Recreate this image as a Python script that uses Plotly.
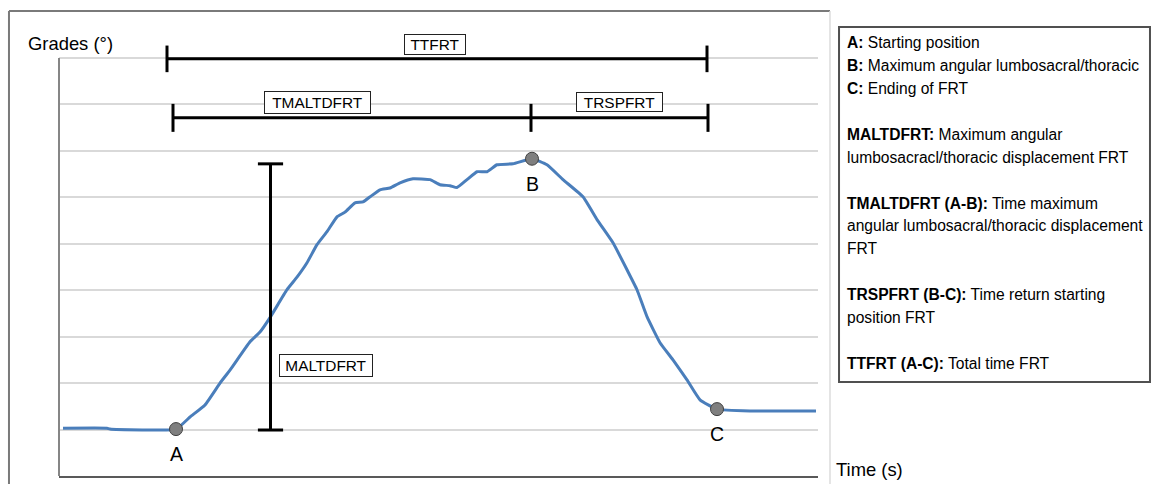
import plotly.graph_objects as go

# ---- data (time in s, angle in grades) ----
time_s = [0.04, 0.48, 0.51, 1.17, 1.31, 1.46, 1.61, 1.71, 1.91, 2.01, 2.11, 2.28, 2.38,
          2.48, 2.58, 2.68, 2.78, 2.86, 2.96, 3.04, 3.11, 3.21, 3.31, 3.41, 3.54, 3.71,
          3.81, 3.91, 3.98, 4.08, 4.18, 4.28, 4.38, 4.54, 4.73, 4.88, 5.04, 5.24, 5.38,
          5.54, 5.68, 5.78, 5.88, 6.01, 6.14, 6.28, 6.41, 6.58, 6.91, 7.57]
grades = [1.03, 1.03, 1.01, 1.01, 1.27, 1.53, 2.00, 2.28, 2.89, 3.10, 3.41, 4.01, 4.28,
          4.59, 4.98, 5.26, 5.58, 5.68, 5.88, 5.90, 6.01, 6.16, 6.20, 6.31, 6.40, 6.38,
          6.27, 6.25, 6.21, 6.38, 6.55, 6.55, 6.70, 6.72, 6.83, 6.70, 6.38, 6.01, 5.52,
          5.02, 4.44, 4.01, 3.43, 2.87, 2.50, 2.07, 1.64, 1.44, 1.40, 1.40]

point_labels = ["A", "B", "C"]
point_time = [1.17, 4.73, 6.58]
point_grades = [1.01, 6.83, 1.44]

# interval bars
ttfrt_x = [1.08, 6.48]
ttfrt_y = [8.98, 8.98]
tmaltdfrt_x = [1.14, 4.72, 6.49]
tmaltdfrt_y = [7.71, 7.71, 7.71]
maltdfrt_x = [2.115, 2.115]
maltdfrt_y = [0.99, 6.72]

box_labels = ["TTFRT", "TMALTDFRT", "TRSPFRT", "MALTDFRT"]
box_x = [3.76, 2.585, 5.605, 2.67]
box_y = [9.29, 8.04, 8.05, 2.38]
box_w = [58, 103, 83, 90]
box_h = [17, 19, 16, 19]

legend_lines = [
    "<b>A:</b> Starting position",
    "<b>B:</b> Maximum angular lumbosacral/thoracic",
    "<b>C:</b> Ending of FRT",
    "",
    "<b>MALTDFRT:</b> Maximum angular",
    "lumbosacracl/thoracic displacement FRT",
    "",
    "<b>TMALTDFRT (A-B):</b> Time maximum",
    "angular lumbosacral/thoracic displacement",
    "FRT",
    "",
    "<b>TRSPFRT (B-C):</b> Time return starting",
    "position FRT",
    "",
    "<b>TTFRT (A-C):</b> Total time FRT",
]

FONT = "Liberation Sans, Arial, sans-serif"

fig = go.Figure()

fig.add_trace(go.Scatter(x=time_s, y=grades, mode="lines",
                         line=dict(color="#4a7ebb", width=3, shape="spline", smoothing=0.4),
                         hoverinfo="skip"))

bar_style = dict(mode="lines+markers", line=dict(color="black", width=3),
                 cliponaxis=False, hoverinfo="skip")
fig.add_trace(go.Scatter(x=ttfrt_x, y=ttfrt_y,
                         marker=dict(symbol="line-ns", size=19, line=dict(color="black", width=3)),
                         **bar_style))
fig.add_trace(go.Scatter(x=tmaltdfrt_x, y=tmaltdfrt_y,
                         marker=dict(symbol="line-ns", size=20, line=dict(color="black", width=3)),
                         **bar_style))
fig.add_trace(go.Scatter(x=maltdfrt_x, y=maltdfrt_y,
                         marker=dict(symbol="line-ew", size=18, line=dict(color="black", width=3)),
                         **bar_style))

fig.add_trace(go.Scatter(x=point_time, y=point_grades, mode="markers",
                         marker=dict(color="#7f7f7f", size=13, line=dict(color="#404040", width=1)),
                         cliponaxis=False, hoverinfo="skip"))

annotations = []
for lab, x, y in zip(point_labels, point_time, point_grades):
    annotations.append(dict(x=x, y=y, xref="x", yref="y", text=lab, showarrow=False,
                            xanchor="center", yanchor="middle",
                            yshift=-25, font=dict(family=FONT, size=19.5, color="black")))
for lab, x, y, w, h in zip(box_labels, box_x, box_y, box_w, box_h):
    annotations.append(dict(x=x, y=y, xref="x", yref="y", text=lab, showarrow=False,
                            xanchor="center", yanchor="middle",
                            width=w, height=h, bgcolor="white", bordercolor="#222",
                            borderwidth=1, borderpad=1,
                            font=dict(family=FONT, size=15.4, color="black")))

annotations.append(dict(x=0.0152, y=1.0023, xref="paper", yref="paper", text="Grades (°)",
                        xanchor="center", yanchor="middle",
                        showarrow=False, font=dict(family=FONT, size=18.4, color="black")))
annotations.append(dict(x=1.0672, y=0.0139, xref="paper", yref="paper", text="Time (s)",
                        xanchor="center", yanchor="middle",
                        showarrow=False, font=dict(family=FONT, size=18.4, color="black")))

# legend text lines, one per row (row pitch ~22.86 px from first row at 43 px)
plot_top_px, plot_h_px = 44, 432
for i, line in enumerate(legend_lines):
    if not line:
        continue
    ypx = 43 + 22.86 * i
    annotations.append(dict(x=1.0356, y=1 - (ypx - plot_top_px) / plot_h_px,
                            xref="paper", yref="paper", text=line, showarrow=False,
                            align="left", xanchor="left", yanchor="middle",
                            font=dict(family=FONT, size=15.6, color="black")))

shapes = [
    # outer frame
    dict(type="line", xref="paper", yref="paper", x0=-0.0659, x1=1.0158, y0=1.0764, y1=1.0764,
         line=dict(color="#7a7a7a", width=2)),
    dict(type="line", xref="paper", yref="paper", x0=-0.0659, x1=-0.0659, y0=1.0764, y1=-0.03,
         line=dict(color="#7a7a7a", width=2)),
    dict(type="line", xref="paper", yref="paper", x0=1.0158, x1=1.0158, y0=1.0764, y1=-0.03,
         line=dict(color="#dcdcdc", width=1.5)),
    # legend box
    dict(type="rect", xref="paper", yref="paper", x0=1.0277, x1=1.4374, y0=0.2176, y1=1.0394,
         line=dict(color="#505050", width=2), fillcolor="rgba(0,0,0,0)"),
    # left axis line
    dict(type="line", xref="paper", yref="y", x0=0, x1=0, y0=0, y1=9,
         line=dict(color="#868686", width=2)),
]

fig.update_layout(
    width=1151, height=484,
    margin=dict(l=59, r=333, t=44, b=8),
    paper_bgcolor="white", plot_bgcolor="white",
    showlegend=False,
    xaxis=dict(range=[0, 7.59], showgrid=False, zeroline=False, showline=True,
               linecolor="#595959", linewidth=2, showticklabels=False, ticks=""),
    yaxis=dict(range=[0, 9.3], tick0=0, dtick=1, showgrid=True, gridcolor="#d9d9d9",
               gridwidth=1.5, zeroline=False, showline=False, showticklabels=False, ticks=""),
    annotations=annotations,
    shapes=shapes,
)

fig.write_html("out.html")
